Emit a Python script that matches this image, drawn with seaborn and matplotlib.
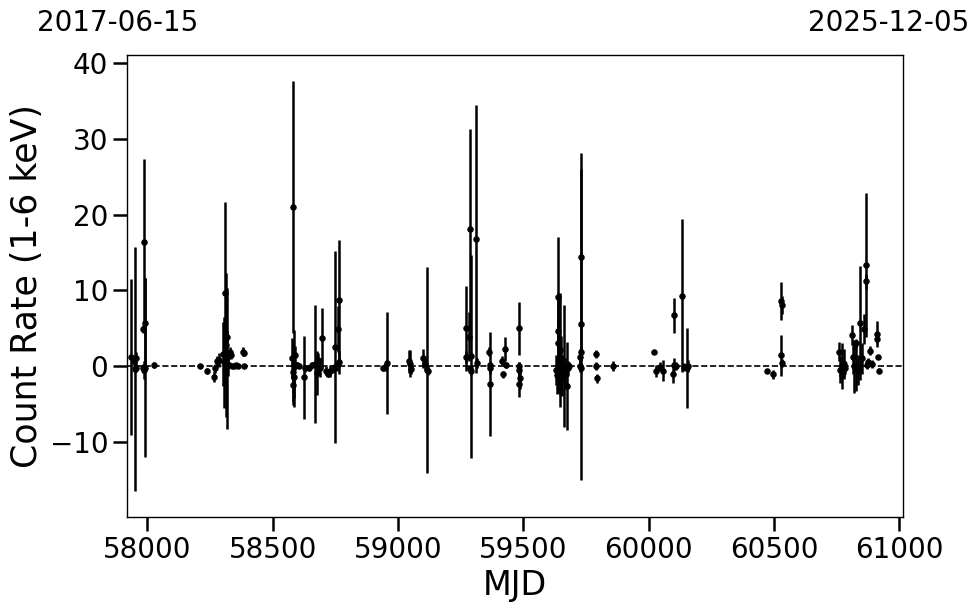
import numpy as np
import pandas as pd
import seaborn as sns
import matplotlib.pyplot as plt

# light curve: MJD, count rate, 1-sigma error
mjd = [
    57936, 57945, 57952, 57953, 57955, 57982, 57984, 57985, 57988, 57990, 57991, 58025,
    58209, 58240, 58264, 58271, 58278, 58286, 58303, 58305, 58311, 58313, 58316, 58318,
    58320, 58325, 58330, 58332, 58336, 58345, 58352, 58360, 58382, 58384, 58386,
    58578, 58580, 58582, 58583, 58585, 58587, 58589, 58591, 58596, 58605, 58626, 58630,
    58645, 58655, 58670, 58677, 58680, 58690, 58698, 58712, 58720, 58730, 58745, 58750,
    58758, 58762, 58763, 58765,
    58942, 58950, 58956, 59045, 59049, 59053, 59100, 59107, 59115, 59120,
    59271, 59272, 59285, 59288, 59289, 59290, 59292, 59312, 59313, 59364, 59365, 59366,
    59367, 59415, 59420, 59428, 59430, 59481, 59482, 59483, 59484, 59485,
    59632, 59634, 59637, 59638, 59640, 59641, 59645, 59647, 59650, 59655, 59663, 59665,
    59674, 59676, 59680, 59726, 59727, 59728, 59729, 59730, 59731, 59790, 59791, 59792,
    59859,
    60022, 60029, 60043, 60057, 60095, 60100, 60102, 60110, 60133, 60142, 60153, 60158,
    60472, 60494, 60529, 60529, 60530, 60533,
    60759, 60764, 60771, 60771, 60778, 60784, 60811, 60815, 60820, 60828, 60828, 60835,
    60844, 60851, 60860, 60865, 60866, 60871, 60875, 60884, 60891, 60911, 60911, 60915,
    60917,
]
rate = [
    1.2, 0.6, -0.4, 1.0, -0.3, -0.3, 4.9, 16.4, -0.5, 5.7, -0.2, 0.1,
    0.0, -0.6, -1.4, -0.3, 0.6, 0.8, 1.6, 0.5, 9.6, 2.8, 1.0, 3.9,
    0.2, 0.1, 1.9, 1.4, 0.0, 0.0, 0.1, 0.0, 1.9, 0.0, 1.7,
    1.0, -0.8, 21.0, -2.5, -1.5, 0.3, 1.4, 0.0, 0.1, 0.0, -1.5, -0.3,
    -0.2, 0.1, 0.3, -0.9, 0.8, -0.2, 3.7, -0.6, -1.0, -0.6, -0.3, 2.5,
    0.0, 4.9, 8.7, 0.5,
    -0.3, -0.1, 0.4, 0.6, 0.3, -0.4, 1.0, 0.3, -0.5, -0.6,
    5.0, 1.2, 3.9, 18.1, -0.3, 1.3, -0.6, 16.8, 0.4, 1.9, -2.4, -0.3,
    0.1, 0.7, -1.1, 2.3, 0.1, 5.0, 0.0, -2.4, -0.5, -1.6,
    -0.5, -1.2, 9.1, 4.6, 3.0, 0.5, 2.1, -0.8, 1.0, -1.5, 0.0, -1.0,
    -2.6, -0.3, 0.0, 1.2, 0.0, 14.4, 5.5, 1.9, -0.2, 1.6, 0.0, -1.6,
    0.0,
    1.9, -0.7, -0.1, -0.6, -1.0, 0.2, 6.7, 0.0, 9.3, -0.1, -0.3, 0.0,
    -0.7, -1.1, 8.6, 1.4, 0.4, 8.1,
    1.9, -0.5, 0.0, -1.2, 0.3, -0.2, 4.1, 1.2, 0.0, 3.0, 0.0, -0.5,
    5.7, 1.0, 4.9, 13.3, 11.2, 0.1, 0.5, 2.0, 0.3, 4.2, 3.6, 1.2,
    -0.6,
]
err = [
    10.3, 0.6, 16.1, 0.8, 0.5, 0.6, 0.5, 10.9, 1.2, 5.9, 11.8, 0.4,
    0.3, 0.4, 0.7, 0.6, 0.7, 0.9, 4.2, 6.0, 12.1, 9.5, 9.3, 0.8,
    1.5, 0.4, 0.6, 0.5, 0.3, 0.3, 0.3, 0.3, 0.6, 0.3, 0.4,
    2.7, 3.8, 16.7, 2.6, 3.9, 4.5, 1.2, 0.5, 0.4, 0.3, 5.5, 0.5,
    0.4, 0.4, 7.8, 2.9, 0.9, 1.3, 4.0, 0.6, 0.5, 0.8, 0.6, 12.7,
    0.6, 3.0, 7.9, 1.5,
    0.4, 0.5, 6.7, 1.5, 1.8, 0.6, 1.2, 0.8, 13.6, 0.6,
    5.6, 0.8, 3.3, 13.2, 0.5, 13.4, 0.6, 17.7, 0.6, 0.6, 6.9, 0.7,
    0.5, 0.6, 0.5, 1.6, 0.4, 3.5, 0.5, 1.7, 1.0, 1.5,
    2.0, 2.5, 8.0, 1.5, 6.6, 3.0, 7.5, 3.0, 3.0, 2.5, 8.1, 2.0,
    5.8, 1.0, 0.5, 1.0, 0.8, 13.8, 20.5, 0.8, 0.6, 0.5, 0.5, 0.6,
    0.7,
    0.2, 0.8, 0.6, 1.4, 1.3, 0.8, 2.3, 0.5, 10.1, 0.5, 5.3, 0.8,
    0.2, 0.6, 2.5, 2.7, 0.5, 1.2,
    1.3, 1.8, 3.0, 0.3, 2.0, 0.8, 1.3, 2.3, 3.5, 0.6, 3.3, 2.0,
    7.5, 2.0, 2.0, 9.5, 1.0, 0.5, 0.6, 0.6, 0.5, 1.7, 0.5, 0.3,
    0.3,
]

start_label = "2017-06-15"
end_label = "2025-12-05"
x_range = (57919, 61014)

df = pd.DataFrame({"MJD": mjd, "rate": rate, "err": err})

sns.set_theme(style="ticks")
plt.rcParams["font.family"] = ["DejaVu Sans"]
plt.rcParams.update({"text.color": "black", "axes.labelcolor": "black",
                     "xtick.color": "black", "ytick.color": "black",
                     "axes.edgecolor": "black"})

fig = plt.figure(figsize=(9.8, 6.13), dpi=100)
ax = fig.add_axes([0.1296, 0.1566, 0.7918, 0.7537])

ax.errorbar(df["MJD"], df["rate"], yerr=df["err"], fmt="none",
            ecolor="black", elinewidth=1.8, capsize=0, zorder=2)
sns.scatterplot(data=df, x="MJD", y="rate", ax=ax, color="black",
                s=22, edgecolor="black", linewidth=0, zorder=3)
ax.axhline(0, color="black", ls="--", lw=1.2, zorder=1)

ax.set_xlim(*x_range)
ax.set_ylim(-19.95, 41.1)
ax.set_xticks([58000, 58500, 59000, 59500, 60000, 60500, 61000])
ax.set_yticks([-10, 0, 10, 20, 30, 40])
ax.tick_params(axis="both", labelsize=20, length=10, width=1.8, direction="out",
               color="black", labelcolor="black")
for s in ax.spines.values():
    s.set_color("black")
    s.set_linewidth(1.0)

ax.set_xlabel("MJD", fontsize=24, color="black")
ax.set_ylabel("Count Rate (1-6 keV)", fontsize=25, color="black")

fig.text(118 / 980, 1 - 23 / 613, start_label, ha="center", va="center",
         fontsize=20, color="black")
fig.text(889 / 980, 1 - 23 / 613, end_label, ha="center", va="center",
         fontsize=20, color="black")

fig.savefig("out.png", dpi=100)
